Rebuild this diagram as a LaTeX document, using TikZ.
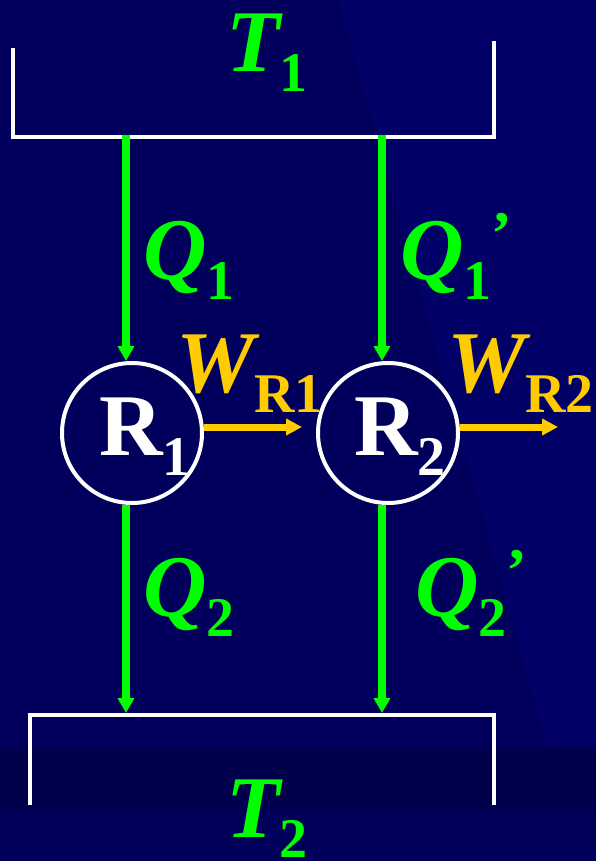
\documentclass[tikz,border=0pt]{standalone}
\usepackage{fontspec}
\setmainfont{Liberation Serif}
\usetikzlibrary{arrows.meta,positioning,calc}
\definecolor{mNavy}{HTML}{000066}
\definecolor{mShade}{HTML}{00005C}
\definecolor{mFloor}{HTML}{00004C}
\definecolor{mBase}{HTML}{00005A}
\definecolor{mGreen}{HTML}{00FF00}
\definecolor{mGold}{HTML}{FFCC00}
\newcommand{\bigtxt}{\fontsize{88}{90}\selectfont\bfseries}
\newcommand{\subtxt}[1]{\raisebox{-20pt}{\fontsize{56}{58}\selectfont\upshape #1}}
\newcommand{\primetxt}{\raisebox{25pt}{\fontsize{62}{64}\selectfont\upshape ’}}

\begin{document}
\begin{tikzpicture}[x=1pt,y=-1pt,
  heat/.style={mGreen,line width=7.5pt,-{Triangle[width=16pt,length=15pt]}},
  work/.style={mGold,line width=7pt,-{Triangle[width=16pt,length=16pt]}},
  wall/.style={white,line width=4pt},
  engine/.style={circle,draw=white,line width=4pt,minimum size=140pt,inner sep=0pt},
  sym/.style={inner sep=0pt,anchor=base west,font=\bigtxt}]
  \fill[mNavy] (0,0) rectangle (596,861);
  \fill[mShade] (0,0) -- (338,0) -- (547,747) -- (0,747) -- cycle;
  \fill[mFloor] (0,747) rectangle (596,810);
  \fill[mBase] (0,810) rectangle (596,861);
  \useasboundingbox (0,0) rectangle (596,861);

  \draw[wall] (13,48) |- (494,137) -- (494,41);
  \draw[wall] (30,805) |- (494,715) -- (494,805);

  \node[engine] (r1) at (132,433) {};
  \node[engine] (r2) at (388,433) {};

  \foreach \n/\x in {1/126,2/382}{%
    \coordinate (h\n) at (\x,135);
    \coordinate (c\n) at (\x,713);
    \draw[heat] (h\n) -- (h\n |- r\n.north);
    \draw[heat] (h\n |- r\n.south) -- (c\n);
  }
  \coordinate (w1) at (302,427);
  \coordinate (w2) at (558,427);
  \draw[work] (r1.east |- w1) -- (w1);
  \draw[work] (r2.east |- w2) -- (w2);

  \node[sym,mGreen] (t1) at (226,72) {\itshape T\subtxt{1}};
  \node[sym,mGreen] (q1) at (143,279) {\itshape Q\subtxt{1}};
  \node[sym,mGreen] (q1p) at (400,279) {\itshape Q\subtxt{1}\primetxt};
  \node[sym,mGold] (wr1) at (176,392) {\itshape W\subtxt{R1}};
  \node[sym,mGold] (wr2) at (447,392) {\itshape W\subtxt{R2}};
  \node[sym,white] (n1) at (99,455) {R\subtxt{1}};
  \node[sym,white] (n2) at (354,455) {R\subtxt{2}};
  \node[sym,mGreen] (q2) at (143,616) {\itshape Q\subtxt{2}};
  \node[sym,mGreen] (q2p) at (415,616) {\itshape Q\subtxt{2}\primetxt};
  \node[sym,mGreen] (t2) at (226,837) {\itshape T\subtxt{2}};
\end{tikzpicture}
\end{document}
